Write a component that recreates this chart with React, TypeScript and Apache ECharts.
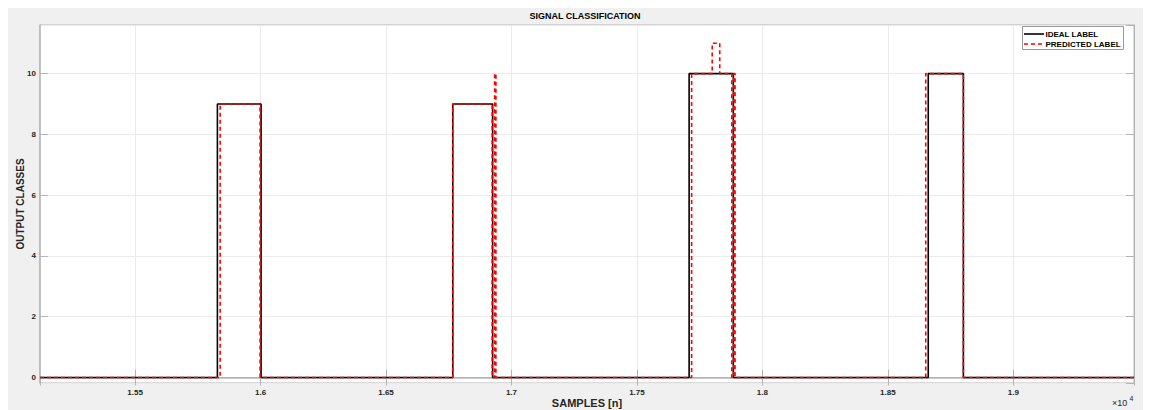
import React, { useEffect, useRef } from "react";
import * as echarts from "echarts";

// ---- data (samples, class levels) ----
const idealChangeX = [15121, 15828, 16002, 16766, 16925, 17708, 17884, 18661, 18801];
const idealLevel = [0, 9, 0, 9, 0, 10, 0, 10, 0];

const predChangeX = [15121, 15839, 15998, 16766, 16923, 16933, 16938, 17718, 17800, 17830, 17878, 17886, 17891, 18651, 18801];
const predLevel = [0, 9, 0, 9, 0, 10, 0, 10, 11, 10, 0, 10, 0, 10, 0];

const xTickLabels = ["1.55", "1.6", "1.65", "1.7", "1.75", "1.8", "1.85", "1.9"];
const yTickLabels = ["0", "2", "4", "6", "8", "10"];

const X_MIN = 15121;
const X_MAX = 19481;
const Y_MIN = -0.18;
const Y_MAX = 11.6;

function stepPoints(xs: number[], ys: number[], xEnd: number): number[][] {
  const pts: number[][] = [];
  for (let i = 0; i < xs.length; i++) {
    if (i > 0) pts.push([xs[i], ys[i - 1]]);
    pts.push([xs[i], ys[i]]);
  }
  pts.push([xEnd, ys[ys.length - 1]]);
  return pts;
}

const FONT = "'Liberation Sans', Arial, Helvetica, sans-serif";
const TXT = "#262626";
const AXIS = "#b4b4b4";
const GRIDC = "#ebebeb";

export default function App() {
  const ref = useRef<HTMLDivElement>(null);
  useEffect(() => {
    if (!ref.current) return;
    const chart = echarts.init(ref.current, undefined, { renderer: "svg" });
    const xLabel = (v: number) => {
      const s = String(+(v / 10000).toFixed(2));
      return xTickLabels.includes(s) ? s : "";
    };
    const yLabel = (v: number) => {
      const s = String(Math.round(v));
      return yTickLabels.includes(s) && Math.abs(v - Math.round(v)) < 1e-6 ? s : "";
    };
    chart.setOption({
      animation: false,
      backgroundColor: "#f0f0f0",
      grid: {
        left: 32,
        right: 9,
        top: 17,
        bottom: 27,
        show: true,
        backgroundColor: "#ffffff",
        borderColor: AXIS,
        borderWidth: 1,
        containLabel: false,
        outerBoundsMode: "none",
      },
      xAxis: [
        {
          type: "value",
          min: X_MIN,
          max: X_MAX,
          splitNumber: 9,
          minInterval: 500,
          maxInterval: 500,
          name: "SAMPLES [n]",
          nameLocation: "middle",
          nameGap: 14,
          nameMoveOverlap: false,
          nameTextStyle: { fontFamily: FONT, fontSize: 11, fontWeight: "bold", color: TXT },
          axisLine: { show: true, lineStyle: { color: AXIS, width: 1.5 } },
          axisTick: { show: true, inside: true, length: 8, lineStyle: { color: AXIS } },
          axisLabel: {
            show: true,
            formatter: xLabel,
            showMinLabel: false,
            showMaxLabel: false,
            margin: 5,
            fontFamily: FONT,
            fontSize: 8,
            fontWeight: "bold",
            color: TXT,
          },
          splitLine: { show: true, lineStyle: { color: GRIDC, width: 1 } },
        },
        {
          type: "value",
          position: "top",
          min: X_MIN,
          max: X_MAX,
          splitNumber: 9,
          minInterval: 500,
          maxInterval: 500,
          axisLine: { show: true, lineStyle: { color: AXIS, width: 1 } },
          axisTick: { show: true, inside: true, length: 8, lineStyle: { color: AXIS } },
          axisLabel: { show: false },
          splitLine: { show: false },
        },
      ],
      yAxis: [
        {
          type: "value",
          min: Y_MIN,
          max: Y_MAX,
          minInterval: 2,
          maxInterval: 2,
          splitNumber: 6,
          name: "OUTPUT CLASSES",
          nameLocation: "middle",
          nameRotate: 90,
          nameGap: 15,
          nameMoveOverlap: false,
          nameTextStyle: { fontFamily: FONT, fontSize: 10, fontWeight: "bold", color: TXT },
          axisLine: { show: true, lineStyle: { color: AXIS, width: 1.5 } },
          axisTick: { show: true, inside: true, length: 8, lineStyle: { color: AXIS } },
          axisLabel: {
            show: true,
            formatter: yLabel,
            showMinLabel: false,
            showMaxLabel: false,
            margin: 4,
            fontFamily: FONT,
            fontSize: 8,
            fontWeight: "bold",
            color: TXT,
          },
          splitLine: { show: true, lineStyle: { color: GRIDC, width: 1 } },
        },
        {
          type: "value",
          position: "right",
          min: Y_MIN,
          max: Y_MAX,
          minInterval: 2,
          maxInterval: 2,
          splitNumber: 6,
          axisLine: { show: true, lineStyle: { color: AXIS, width: 1 } },
          axisTick: { show: true, inside: true, length: 8, lineStyle: { color: AXIS } },
          axisLabel: { show: false },
          splitLine: { show: false },
        },
      ],
      series: [
        {
          name: "IDEAL LABEL",
          type: "line",
          xAxisIndex: 0,
          yAxisIndex: 0,
          data: stepPoints(idealChangeX, idealLevel, X_MAX),
          showSymbol: false,
          symbol: "none",
          lineStyle: { color: "#000000", width: 1.6 },
          z: 2,
        },
        {
          name: "PREDICTED LABEL",
          type: "line",
          xAxisIndex: 0,
          yAxisIndex: 0,
          data: stepPoints(predChangeX, predLevel, X_MAX),
          showSymbol: false,
          symbol: "none",
          lineStyle: { color: "#ff0000", width: 1.6, type: [4, 3] },
          z: 3,
        },
      ],
      graphic: [
        {
          type: "text",
          x: 577,
          y: 8,
          style: {
            text: "SIGNAL CLASSIFICATION",
            fontFamily: FONT,
            fontSize: 9,
            fontWeight: "bold",
            fill: "#000",
            align: "center",
            verticalAlign: "middle",
          },
        },
        {
          type: "rect",
          shape: { x: 1014.5, y: 18.5, width: 101, height: 23 },
          style: { fill: "#ffffff", stroke: "#9a9a9a", lineWidth: 1 },
          z: 100,
        },
        {
          type: "line",
          shape: { x1: 1016, y1: 26, x2: 1036, y2: 26 },
          style: { stroke: "#000", lineWidth: 1.6 },
          z: 101,
        },
        {
          type: "text",
          x: 1037.5,
          y: 26,
          style: {
            text: "IDEAL LABEL",
            fontFamily: FONT,
            fontSize: 8,
            fontWeight: "bold",
            fill: "#000",
            align: "left",
            verticalAlign: "middle",
          },
          z: 101,
        },
        {
          type: "line",
          shape: { x1: 1016, y1: 36, x2: 1036, y2: 36 },
          style: { stroke: "#ff0000", lineWidth: 1.6, lineDash: [4, 3] },
          z: 101,
        },
        {
          type: "text",
          x: 1037.5,
          y: 36,
          style: {
            text: "PREDICTED LABEL",
            fontFamily: FONT,
            fontSize: 8,
            fontWeight: "bold",
            fill: "#000",
            align: "left",
            verticalAlign: "middle",
          },
          z: 101,
        },
        {
          type: "text",
          x: 1104,
          y: 395,
          style: {
            text: "×10",
            fontFamily: FONT,
            fontSize: 9,
            fill: TXT,
            align: "left",
            verticalAlign: "middle",
          },
        },
        {
          type: "text",
          x: 1121.5,
          y: 390.5,
          style: {
            text: "4",
            fontFamily: FONT,
            fontSize: 7,
            fill: TXT,
            align: "left",
            verticalAlign: "middle",
          },
        },
      ],
    });
    return () => chart.dispose();
  }, []);
  return <div ref={ref} style={{ width: 1135, height: 402 }} />;
}
